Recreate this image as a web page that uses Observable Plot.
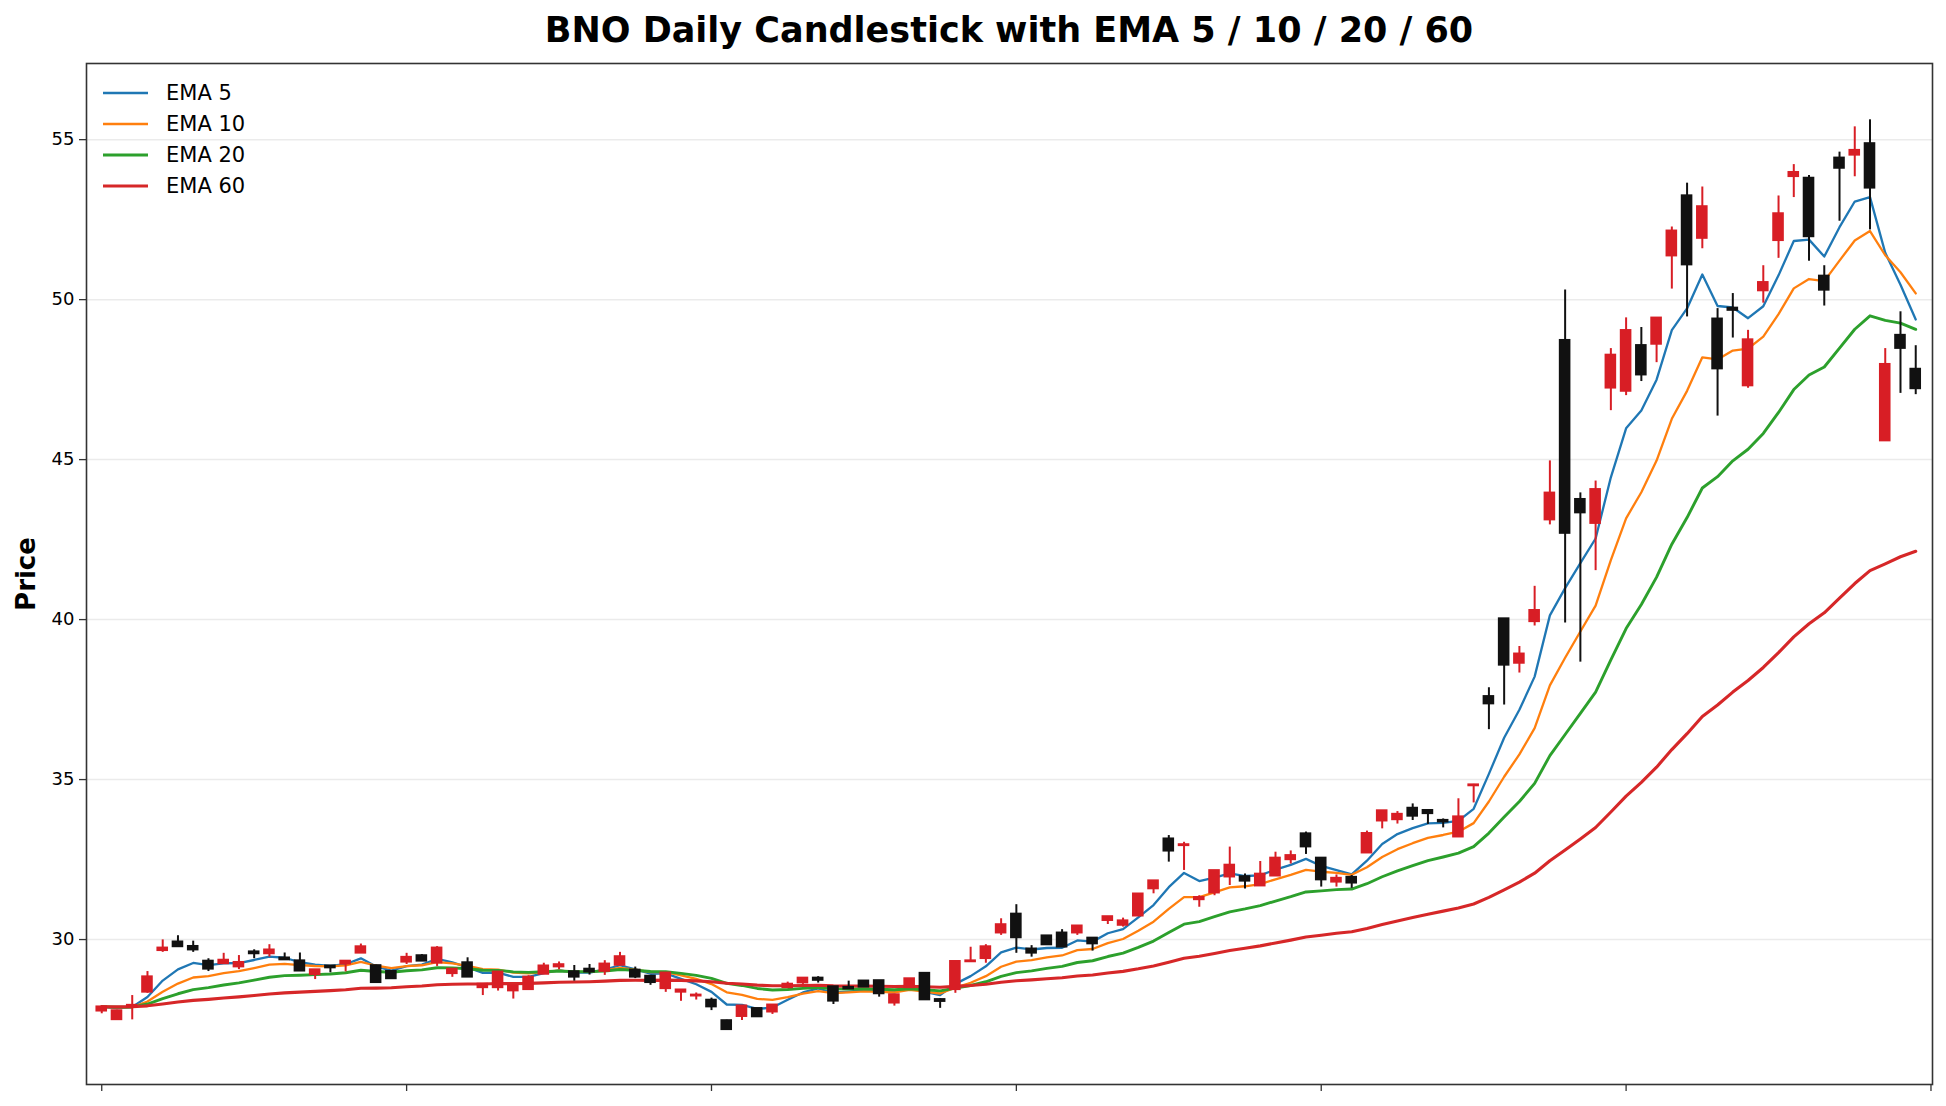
<!DOCTYPE html>
<html>
<head>
<meta charset="utf-8">
<script src="https://cdn.jsdelivr.net/npm/d3@7"></script>
<script src="https://cdn.jsdelivr.net/npm/@observablehq/plot@0.6"></script>
<style>
  html, body { margin: 0; padding: 0; background: #fff; }
  #wrap { position: relative; width: 1946px; height: 1106px; font-family: "DejaVu Sans", sans-serif; }
  #title { position: absolute; left: 86px; width: 1846px; top: 10px; text-align: center;
           font-size: 35px; font-weight: bold; color: #000; line-height: 40px; }
  #chart { position: absolute; left: 0; top: 50px; }
  #legend { position: absolute; left: 100px; top: 77px; font-size: 21px; color: #000; }
  .row { display: flex; align-items: center; height: 31px; }
  .row svg { margin-right: 16px; }
  [aria-label="y-axis label"] text { font-size: 26px; font-weight: bold; }
</style>
</head>
<body>
<div id="wrap">
  <div id="title">BNO Daily Candlestick with EMA 5 / 10 / 20 / 60</div>
  <div id="chart"></div>
  <div id="legend"></div>
</div>
<script>
// Daily OHLC values (index 0..119)
const open = [27.76,27.49,27.87,28.35,29.65,29.93,29.79,29.33,29.24,29.14,
  29.62,29.55,29.43,29.34,28.90,29.18,29.23,29.57,29.19,29.01,
  29.29,29.50,29.26,28.93,29.28,28.49,28.49,28.39,28.43,28.91,
  29.14,29.00,29.08,29.00,29.19,29.05,28.86,28.46,28.35,28.23,
  28.11,27.47,27.59,27.85,27.73,28.49,28.64,28.80,28.53,28.51,
  28.71,28.72,28.01,28.49,28.95,28.13,28.43,29.30,29.40,30.20,
  30.80,29.71,30.12,30.21,30.20,30.05,30.59,30.44,30.73,31.58,
  33.15,32.93,31.24,31.45,31.95,31.97,31.67,31.98,32.49,33.31,
  32.55,31.79,31.95,32.70,33.70,33.74,34.11,34.04,33.73,33.20,
  34.80,37.60,40.03,38.63,39.93,43.11,48.73,43.76,43.00,47.23,
  47.13,48.57,48.60,51.36,53.25,51.91,49.40,49.74,47.30,50.27,
  51.84,53.84,53.80,50.74,54.43,54.51,54.88,45.58,48.89,47.83];
const high = [27.92,27.79,28.25,29.00,29.99,30.12,29.95,29.40,29.57,29.50,
  29.68,29.84,29.58,29.58,29.06,29.18,29.33,29.86,29.20,29.01,
  29.57,29.53,29.78,29.08,29.43,28.61,28.99,28.56,28.87,29.26,
  29.30,29.19,29.22,29.34,29.60,29.14,28.86,28.96,28.43,28.33,
  28.17,27.48,27.93,27.85,27.96,28.67,28.80,28.84,28.53,28.70,
  28.71,28.72,28.28,28.78,28.95,28.15,29.32,29.76,29.84,30.65,
  31.09,29.81,30.12,30.31,30.43,30.05,30.72,30.67,31.43,31.84,
  33.25,33.04,31.37,32.16,32.89,32.05,32.44,32.73,32.77,33.36,
  32.55,32.02,32.00,33.39,34.03,34.00,34.24,34.04,33.77,34.40,
  34.85,37.87,40.03,39.16,41.04,44.96,50.30,43.96,44.33,48.47,
  49.43,49.13,49.43,52.27,53.64,53.52,49.72,50.19,49.04,51.06,
  53.24,54.22,53.88,51.06,54.61,55.40,55.62,48.47,49.62,48.56];
const low = [27.68,27.48,27.49,28.32,29.60,29.77,29.60,29.00,29.24,29.06,
  29.40,29.45,29.36,29.01,28.75,28.96,28.99,29.57,28.65,28.77,
  29.22,29.32,29.16,28.82,28.82,28.25,28.39,28.14,28.43,28.91,
  29.06,28.70,28.89,28.88,29.19,28.78,28.57,28.35,28.07,28.11,
  27.78,27.17,27.47,27.57,27.66,28.49,28.60,28.64,27.97,28.45,
  28.51,28.20,27.92,28.49,28.11,27.85,28.32,29.30,29.26,30.13,
  29.57,29.45,29.83,29.76,30.13,29.64,30.47,30.39,30.73,31.43,
  32.42,32.16,31.01,31.37,31.69,31.58,31.67,31.98,32.36,32.66,
  31.64,31.64,31.60,32.70,33.46,33.61,33.72,33.60,33.49,33.20,
  34.27,36.56,37.33,38.33,39.80,42.96,39.89,38.67,41.53,46.53,
  47.00,47.44,48.03,50.33,49.46,51.59,46.36,48.80,47.23,49.89,
  51.29,53.19,51.20,49.80,52.45,53.84,52.18,45.58,47.07,47.03];
const close = [27.90,27.78,27.95,28.84,29.74,29.77,29.67,29.07,29.36,29.29,
  29.55,29.68,29.36,29.01,29.06,29.11,29.33,29.78,28.65,28.77,
  29.45,29.32,29.74,29.08,28.82,28.61,28.99,28.56,28.83,29.18,
  29.22,28.82,28.98,29.24,29.47,28.82,28.65,28.96,28.43,28.27,
  27.89,27.18,27.93,27.58,27.96,28.61,28.80,28.72,28.07,28.45,
  28.51,28.30,28.28,28.78,28.11,28.06,29.32,29.34,29.78,30.47,
  30.05,29.57,29.83,29.76,30.43,29.86,30.72,30.59,31.43,31.84,
  32.76,32.97,31.32,32.16,32.33,31.82,32.05,32.55,32.63,32.89,
  31.86,31.92,31.76,33.32,34.03,33.92,33.85,33.93,33.67,33.84,
  34.84,37.36,38.57,38.93,40.29,43.96,42.69,43.33,44.07,48.27,
  49.04,47.64,49.43,52.15,51.08,52.91,47.83,49.66,48.75,50.54,
  52.69,53.98,51.96,50.29,54.10,54.67,53.48,47.98,48.47,47.21];

const emaPeriods = [5, 10, 20, 60];
const emaNames = ["EMA 5", "EMA 10", "EMA 20", "EMA 60"];
const emaColors = ["#1f77b4", "#ff7f0e", "#2ca02c", "#d62728"];
const emaWidths = [2.3, 2.3, 2.9, 3.1];
const yTicks = [30, 35, 40, 45, 50, 55];
const xTicks = [0, 20, 40, 60, 80, 100, 120];

const upColor = "#d81e25";
const downColor = "#111111";

const candles = close.map((c, i) => ({
  i, open: open[i], high: high[i], low: low[i], close: c,
  up: c >= open[i]
}));

// exponential moving averages of the closes (adjust = false)
function ema(values, n) {
  const a = 2 / (n + 1);
  const out = [];
  values.forEach((v, k) => out.push(k === 0 ? v : a * v + (1 - a) * out[k - 1]));
  return out;
}
const emaRows = [];
emaPeriods.forEach((p, s) => {
  ema(close, p).forEach((v, i) => emaRows.push({ i, v, name: emaNames[s] }));
});

const chart = Plot.plot({
  width: 1946,
  height: 1056,
  marginLeft: 86,
  marginRight: 14,
  marginTop: 13,
  marginBottom: 22,
  style: { fontFamily: "DejaVu Sans, sans-serif", color: "#000", background: "#fff" },
  x: { type: "linear", domain: [-1.0, 120.1] },
  y: { domain: [25.47, 57.38] },
  color: { domain: emaNames, range: emaColors },
  marks: [
    Plot.ruleY(yTicks, { stroke: "#ebebeb", strokeWidth: 1.5 }),
    ...emaNames.map((nm, s) => Plot.line(emaRows.filter(d => d.name === nm), {
      x: "i", y: "v", stroke: emaColors[s], strokeWidth: emaWidths[s]
    })),
    Plot.ruleX(candles, {
      x: "i", y1: "low", y2: "high",
      stroke: d => d.up ? upColor : downColor, strokeWidth: 2
    }),
    Plot.rect(candles, {
      x1: d => d.i - 0.38, x2: d => d.i + 0.38,
      y1: d => Math.min(d.open, d.close) - 0.025,
      y2: d => Math.max(d.open, d.close) + 0.025,
      fill: d => d.up ? upColor : downColor
    }),
    Plot.axisY(yTicks, {
      tickSize: 7, tickPadding: 5, fontSize: 18, stroke: "#333", strokeWidth: 1.3,
      label: "Price", labelAnchor: "center", labelArrow: "none", labelOffset: 70
    }),
    Plot.axisX(xTicks, { tickSize: 7, tickFormat: () => "", stroke: "#333", strokeWidth: 1.3, label: null }),
    Plot.frame({ stroke: "#333", strokeWidth: 1.6 })
  ]
});
document.getElementById("chart").appendChild(chart);

const legend = document.getElementById("legend");
emaNames.forEach((nm, s) => {
  const row = document.createElement("div");
  row.className = "row";
  row.innerHTML = `<svg width="50" height="10"><line x1="3" x2="48" y1="5" y2="5" stroke="${emaColors[s]}" stroke-width="${emaWidths[s]}"/></svg><span>${nm}</span>`;
  legend.appendChild(row);
});
</script>
</body>
</html>
